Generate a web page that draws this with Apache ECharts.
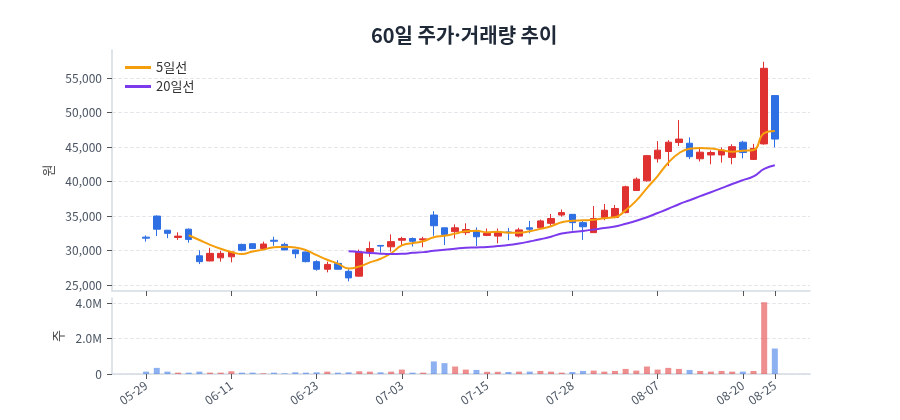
<!DOCTYPE html>
<html lang="ko">
<head>
<meta charset="utf-8">
<title>60일 주가·거래량 추이</title>
<script src="https://cdn.jsdelivr.net/npm/echarts@6.0.0/dist/echarts.min.js"></script>
<style>
  html, body { margin: 0; padding: 0; background: #fff; }
  #chart { width: 900px; height: 420px; }
</style>
</head>
<body>
<div id="chart"></div>
<script>
const dates = [
    '05-29', '05-30', '06-02', '06-03', '06-04', '06-05', '06-09', '06-10', '06-11', '06-12',
    '06-13', '06-16', '06-17', '06-18', '06-19', '06-20', '06-23', '06-24', '06-25', '06-26',
    '06-27', '06-30', '07-01', '07-02', '07-03', '07-04', '07-07', '07-08', '07-09', '07-10',
    '07-11', '07-14', '07-15', '07-16', '07-18', '07-21', '07-22', '07-23', '07-24', '07-25',
    '07-28', '07-29', '07-30', '07-31', '08-01', '08-04', '08-05', '08-06', '08-07', '08-08',
    '08-11', '08-12', '08-13', '08-14', '08-18', '08-19', '08-20', '08-21', '08-22', '08-25'
];

const openPrices = [
    31950, 35000, 32950, 31900, 33100, 29250, 28500, 28950, 29100, 30900,
    31000, 30300, 31500, 30900, 30100, 29800, 28400, 27300, 28150, 27000,
    26300, 29850, 30750, 30550, 31500, 31750, 31550, 35150, 33300, 32750,
    32600, 32750, 32200, 32100, 32700, 32100, 33300, 33300, 33950, 35150,
    35250, 34050, 32600, 34800, 34800, 35500, 38700, 40100, 43300, 44350,
    45650, 45550, 43300, 43850, 43850, 43500, 45700, 43200, 45450, 52450
];
const closePrices = [
    31800, 33100, 32500, 32100, 31600, 28400, 29600, 29600, 29800, 30050,
    30300, 30950, 31350, 30100, 29550, 28400, 27300, 28000, 27300, 26050,
    29800, 30300, 30650, 31300, 31750, 31350, 31700, 33600, 32350, 33300,
    33050, 32000, 32500, 32750, 32600, 33000, 33100, 34300, 34650, 35500,
    34050, 33450, 34650, 35850, 36100, 39250, 40350, 43750, 44550, 45700,
    46150, 43600, 44250, 44200, 44550, 45050, 44200, 44800, 56400, 46150
];
const lowPrices = [
    31300, 32100, 31800, 31550, 31150, 28050, 28450, 28400, 28300, 29900,
    30250, 30250, 30700, 30050, 28900, 28300, 27100, 26850, 27250, 25550,
    26250, 29100, 29700, 29850, 30700, 30600, 30500, 32150, 30800, 31750,
    32250, 30650, 32100, 31050, 31500, 31900, 32500, 33200, 33600, 34900,
    32900, 31550, 32550, 34400, 34700, 35400, 38650, 40000, 42750, 42250,
    45150, 43250, 42900, 42500, 42750, 42500, 43350, 43150, 45350, 44950
];
const highPrices = [
    32200, 35100, 33000, 32650, 33200, 30050, 30400, 29950, 29900, 31000,
    31050, 31300, 32000, 31150, 30150, 29850, 28600, 28400, 28600, 27300,
    30150, 31300, 30800, 32350, 32000, 31900, 32000, 35700, 33350, 33800,
    33950, 33350, 33200, 33200, 33300, 33300, 34300, 34500, 35300, 35950,
    35300, 34400, 36450, 36750, 36600, 39400, 40600, 43850, 45850, 46000,
    48900, 46400, 44800, 44500, 44950, 45400, 45900, 45450, 57350, 52500
];
const volumes = [
    135000, 346000, 135000, 77000, 77000, 135000, 77000, 77000, 154000, 77000,
    77000, 40000, 77000, 40000, 96000, 77000, 96000, 135000, 77000, 96000,
    154000, 135000, 96000, 135000, 250000, 77000, 77000, 711000, 615000, 423000,
    250000, 231000, 125000, 125000, 115000, 135000, 135000, 173000, 135000, 77000,
    115000, 173000, 192000, 135000, 173000, 288000, 192000, 423000, 250000, 346000,
    288000, 231000, 173000, 135000, 173000, 135000, 135000, 173000, 4060000, 1442000
];

// index positions that carry a date label
const labelIndex = [0, 8, 16, 24, 32, 40, 48, 56, 59];

const UP = '#e03131';
const DOWN = '#2f6fe4';

function movingAverage(values, days) {
    const out = [];
    for (let i = days - 1; i < values.length; i++) {
        let sum = 0;
        for (let j = i - days + 1; j <= i; j++) sum += values[j];
        out.push([i, Math.round(sum / days)]);
    }
    return out;
}

const candleData = dates.map((d, i) => [i, openPrices[i], closePrices[i], lowPrices[i], highPrices[i]]);
const volumeData = volumes.map((v, i) => ({
    value: [i, v],
    itemStyle: { color: closePrices[i] >= openPrices[i] ? UP : DOWN, opacity: 0.55 }
}));

const chart = echarts.init(document.getElementById('chart'));

const axisGray = '#d5dbe4';
const labelGray = '#4b5563';

function xAxisFor(gridIndex, withLabels) {
    return {
        type: 'value',
        gridIndex: gridIndex,
        min: -3.2,
        max: 62.3,
        axisLine: { onZero: false, lineStyle: { color: axisGray, width: 1.5 } },
        axisTick: { customValues: labelIndex, length: 5, lineStyle: { color: '#555' } },
        axisLabel: withLabels ? {
            customValues: labelIndex,
            formatter: v => dates[v] || '',
            rotate: 35,
            color: labelGray,
            fontSize: 12,
            margin: 10
        } : { show: false },
        splitLine: { show: false }
    };
}

chart.setOption({
    animation: false,
    textStyle: { fontFamily: "'Noto Sans CJK KR', 'Noto Sans', sans-serif" },
    title: {
        text: '60일 주가·거래량 추이',
        left: 366,
        top: 20,
        textStyle: { fontSize: 20, fontWeight: 'bold', color: '#1f2937' }
    },
    legend: {
        data: ['5일선', '20일선'],
        orient: 'vertical',
        left: 120,
        top: 56,
        icon: 'rect',
        itemWidth: 26,
        itemHeight: 3,
        itemGap: 6,
        textStyle: { fontSize: 13, color: '#333' }
    },
    grid: [
        { left: 112, right: 90, top: 50, height: 241 },
        { left: 112, right: 90, top: 298, height: 76 }
    ],
    xAxis: [xAxisFor(0, false), xAxisFor(1, true)],
    yAxis: [
        {
            type: 'value',
            gridIndex: 0,
            min: 24150,
            max: 59050,
            splitNumber: 7,
            name: '원',
            nameLocation: 'middle',
            nameGap: 56,
            nameTextStyle: { color: '#444', fontSize: 13 },
            axisLine: { show: true, onZero: false, lineStyle: { color: axisGray, width: 1.5 } },
            axisTick: { show: true, length: 5, lineStyle: { color: '#555' } },
            axisLabel: {
                color: labelGray,
                fontSize: 12,
                margin: 10,
                showMinLabel: false,
                showMaxLabel: false,
                formatter: v => v.toLocaleString('en-US')
            },
            splitLine: { showMinLine: false, showMaxLine: false, lineStyle: { color: '#e5e7eb', type: 'dashed' } }
        },
        {
            type: 'value',
            gridIndex: 1,
            min: 0,
            max: 4300000,
            interval: 2000000,
            name: '주',
            nameLocation: 'middle',
            nameGap: 45,
            nameTextStyle: { color: '#444', fontSize: 13 },
            axisLine: { show: true, onZero: false, lineStyle: { color: axisGray, width: 1.5 } },
            axisTick: { show: true, length: 5, lineStyle: { color: '#555' } },
            axisLabel: {
                color: labelGray,
                fontSize: 12,
                margin: 10,
                showMaxLabel: false,
                formatter: v => v === 0 ? '0' : (v / 1e6).toFixed(1) + 'M'
            },
            splitLine: { showMaxLine: false, lineStyle: { color: '#e5e7eb', type: 'dashed' } }
        }
    ],
    series: [
        {
            name: '주가',
            type: 'candlestick',
            xAxisIndex: 0,
            yAxisIndex: 0,
            barWidth: 7,
            data: candleData,
            itemStyle: {
                color: UP,
                color0: DOWN,
                borderColor: UP,
                borderColor0: DOWN,
                borderWidth: 1
            }
        },
        {
            name: '5일선',
            type: 'line',
            xAxisIndex: 0,
            yAxisIndex: 0,
            data: movingAverage(closePrices, 5),
            smooth: true,
            symbol: 'none',
            color: '#f59e0b',
            lineStyle: { width: 2 }
        },
        {
            name: '20일선',
            type: 'line',
            xAxisIndex: 0,
            yAxisIndex: 0,
            data: movingAverage(closePrices, 20),
            smooth: true,
            symbol: 'none',
            color: '#7c3aed',
            lineStyle: { width: 2 }
        },
        {
            name: '거래량',
            type: 'bar',
            xAxisIndex: 1,
            yAxisIndex: 1,
            barWidth: 6,
            data: volumeData
        }
    ]
});

window.addEventListener('resize', () => chart.resize());
</script>
</body>
</html>
